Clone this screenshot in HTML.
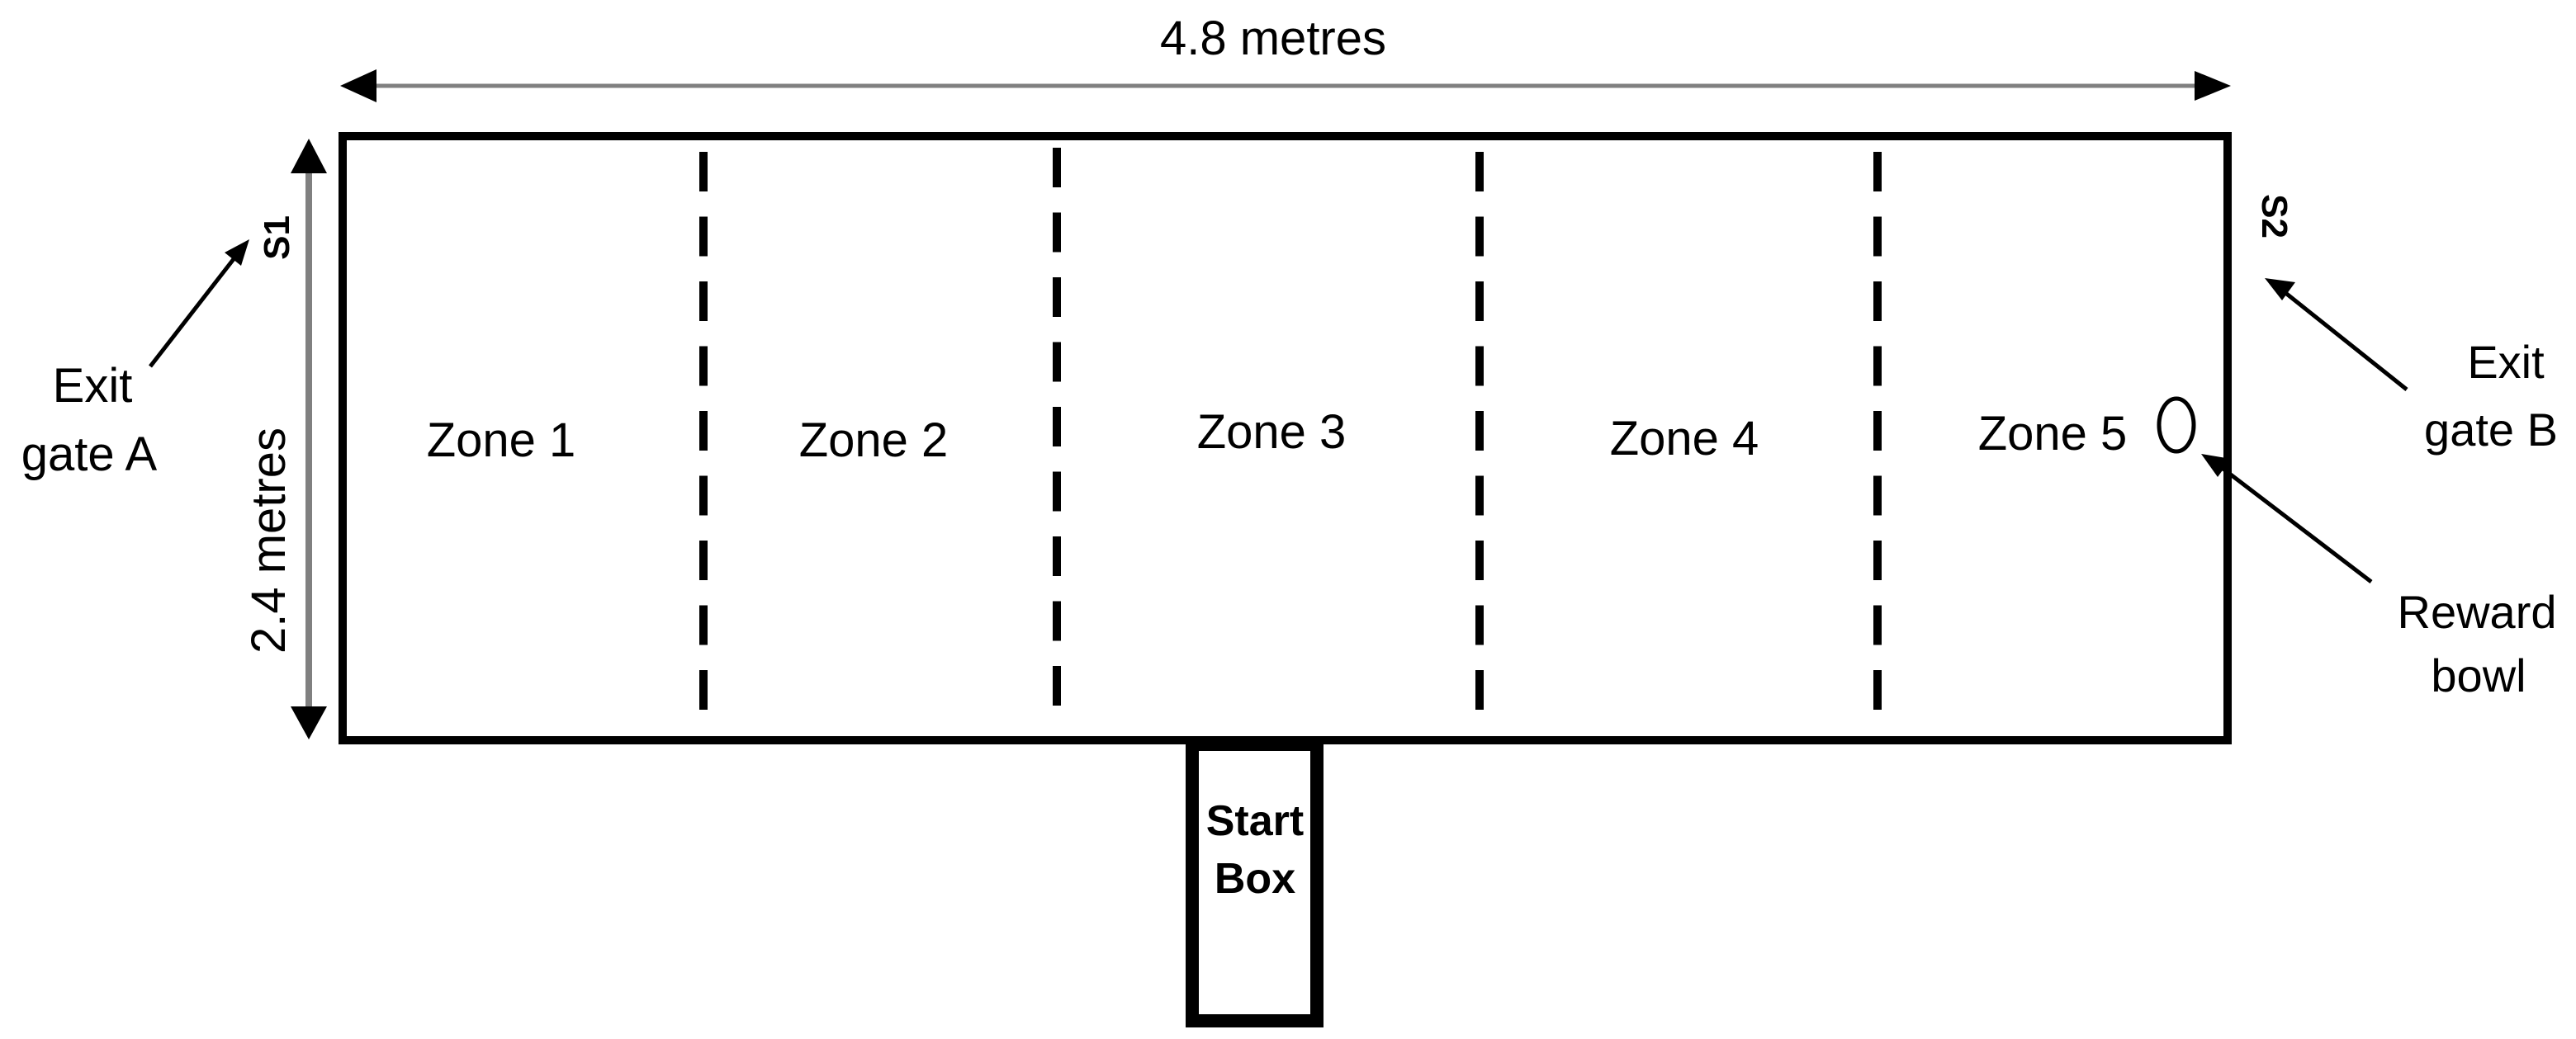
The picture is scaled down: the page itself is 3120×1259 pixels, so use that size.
<!DOCTYPE html>
<html><head><meta charset="utf-8"><style>
html,body{margin:0;padding:0;background:#fff;}
svg{display:block;}
text{font-family:"Liberation Sans",sans-serif;fill:#000;}
</style></head><body>
<svg width="3120" height="1259" viewBox="0 0 3120 1259" xmlns="http://www.w3.org/2000/svg">
<!-- top dimension arrow -->
<line x1="440" y1="104" x2="2672" y2="104" stroke="#808080" stroke-width="5"/>
<polygon points="412,104 456,84 456,124" fill="#000"/>
<polygon points="2702,104 2658,86 2658,122" fill="#000"/>
<text x="1542" y="66" font-size="58" text-anchor="middle">4.8 metres</text>
<!-- left dimension arrow -->
<line x1="374" y1="200" x2="374" y2="866" stroke="#808080" stroke-width="8"/>
<polygon points="374,168 352,210 396,210" fill="#000"/>
<polygon points="374,896 352,856 396,856" fill="#000"/>
<text transform="translate(345,655) rotate(-90)" font-size="58" text-anchor="middle">2.4 metres</text>
<text transform="translate(350,288) rotate(-90)" font-size="44" font-weight="bold" text-anchor="middle">S1</text>
<!-- main rect -->
<rect x="415" y="165" width="2283" height="732" fill="none" stroke="#000" stroke-width="10"/>
<!-- dashed lines -->
<g stroke="#000" stroke-width="10" stroke-dasharray="48 30.5">
<line x1="852" y1="184" x2="852" y2="866"/>
<line x1="1280" y1="179" x2="1280" y2="862"/>
<line x1="1792" y1="184" x2="1792" y2="866"/>
<line x1="2274" y1="184" x2="2274" y2="866"/>
</g>
<!-- zones -->
<g font-size="58" text-anchor="middle">
<text x="607" y="553">Zone 1</text>
<text x="1058" y="553">Zone 2</text>
<text x="1540" y="543">Zone 3</text>
<text x="2040" y="551">Zone 4</text>
<text x="2486" y="545">Zone 5</text>
</g>
<ellipse cx="2636" cy="515" rx="21" ry="32" fill="none" stroke="#000" stroke-width="5"/>
<!-- S2 -->
<text transform="translate(2740,262) rotate(90)" font-size="44" font-weight="bold" text-anchor="middle">S2</text>
<!-- Exit gate A -->
<text x="112" y="487" font-size="58" text-anchor="middle">Exit</text>
<text x="108" y="570" font-size="58" text-anchor="middle">gate A</text>
<line x1="182" y1="444" x2="286" y2="310" stroke="#000" stroke-width="5"/>
<polygon points="302,290 272,306 292,322" fill="#000"/>
<!-- Exit gate B -->
<text x="3035" y="458" font-size="56" text-anchor="middle">Exit</text>
<text x="3017" y="540" font-size="56" text-anchor="middle">gate B</text>
<line x1="2915" y1="472" x2="2762" y2="350" stroke="#000" stroke-width="5"/>
<polygon points="2743,337 2780,342 2764,364" fill="#000"/>
<!-- Reward bowl -->
<text x="3000" y="761" font-size="56" text-anchor="middle">Reward</text>
<text x="3002" y="838" font-size="56" text-anchor="middle">bowl</text>
<line x1="2872" y1="705" x2="2686" y2="563" stroke="#000" stroke-width="5"/>
<polygon points="2666,550 2702,556 2686,578" fill="#000"/>
<!-- start box -->
<rect x="1444" y="902" width="151" height="335" fill="none" stroke="#000" stroke-width="16"/>
<text x="1520" y="1012" font-size="52" font-weight="bold" text-anchor="middle">Start</text>
<text x="1520" y="1082" font-size="52" font-weight="bold" text-anchor="middle">Box</text>
</svg>
</body></html>
